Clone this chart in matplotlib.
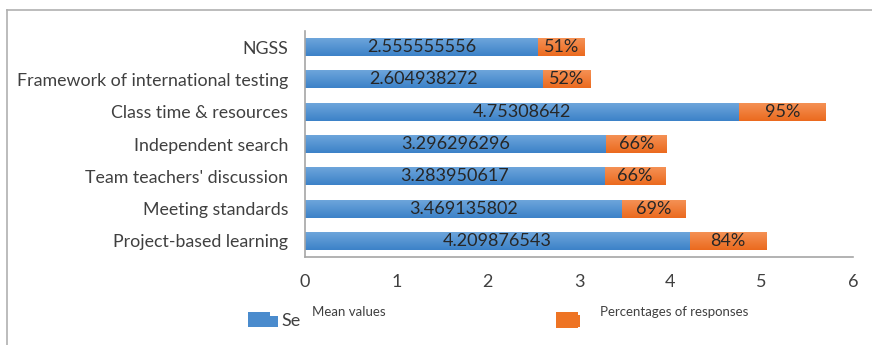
import numpy as np
import matplotlib
matplotlib.use("Agg")
import matplotlib.pyplot as plt
from matplotlib.colors import LinearSegmentedColormap
from matplotlib.patches import Rectangle
from matplotlib.lines import Line2D

categories = ["NGSS", "Framework of international testing", "Class time & resources",
              "Independent search", "Team teachers' discussion", "Meeting standards",
              "Project-based learning"]
mean_values = [2.555555556, 2.604938272, 4.75308642, 3.296296296, 3.283950617,
               3.469135802, 4.209876543]
pct_responses = [0.51, 0.52, 0.95, 0.66, 0.66, 0.69, 0.84]
x_ticks = [0, 1, 2, 3, 4, 5, 6]

plt.rcParams['font.family'] = ['Lato', 'DejaVu Sans']
txt = "#404040"

fig = plt.figure(figsize=(8.72, 3.45), dpi=100)
ax = fig.add_axes([305 / 872, 1 - 257 / 345, 548 / 872, 226 / 345])

n = len(categories)
ypos = np.arange(n)[::-1]
h = 0.56

blue_cmap = LinearSegmentedColormap.from_list("b", ["#3c82c8", "#70a7dc"])
orange_cmap = LinearSegmentedColormap.from_list("o", ["#eb6a1e", "#f59358"])
grad = np.linspace(0, 1, 64).reshape(-1, 1)

b1 = ax.barh(ypos, mean_values, height=h, color="none", linewidth=0)
b2 = ax.barh(ypos, pct_responses, left=mean_values, height=h, color="none", linewidth=0)

for bars, cmap in ((b1, blue_cmap), (b2, orange_cmap)):
    for r in bars:
        x0, y0 = r.get_x(), r.get_y()
        im = ax.imshow(grad, cmap=cmap, aspect="auto", origin="lower",
                       extent=(x0, x0 + r.get_width(), y0, y0 + r.get_height()),
                       interpolation="bilinear", zorder=2)
        im.set_clip_path(r)

for y, m, p in zip(ypos, mean_values, pct_responses):
    ax.text(m / 2, y, f"{m:.10g}", ha="center", va="center", fontsize=13,
            color="#262626", zorder=3)
    ax.text(m + p / 2, y, f"{p * 100:.0f}%", ha="center", va="center", fontsize=13,
            color="#262626", zorder=3)

ax.set_xlim(0, 6)
ax.set_ylim(-0.5, n - 0.5)
ax.set_xticks(x_ticks)
ax.set_xticklabels([str(t) for t in x_ticks], fontsize=13, color=txt)
ax.set_yticks(ypos)
ax.set_yticklabels(categories, fontsize=12.8, color=txt)
ax.tick_params(axis="both", length=0)
ax.tick_params(axis="x", pad=12)
ax.tick_params(axis="y", pad=12)
for s in ("top", "right"):
    ax.spines[s].set_visible(False)
for s in ("left", "bottom"):
    ax.spines[s].set_color("#a6a6a6")
    ax.spines[s].set_linewidth(1.2)

# outer chart frame
fig.add_artist(Line2D([7 / 872, 7 / 872], [0, 1 - 10 / 345], transform=fig.transFigure,
                      color="#b0b0b0", lw=1.2))
fig.add_artist(Line2D([7 / 872, 1], [1 - 10 / 345, 1 - 10 / 345], transform=fig.transFigure,
                      color="#b0b0b0", lw=1.2))

# legend
def patch(x, y, w, hgt, color):
    fig.add_artist(Rectangle((x / 872, 1 - (y + hgt) / 345), w / 872, hgt / 345,
                             transform=fig.transFigure, facecolor=color, edgecolor="none"))

patch(248, 312, 22, 15, "#4a8bcd")
patch(268, 316, 10, 11, "#4a8bcd")
fig.text(281 / 872, 1 - 321 / 345, "Se", fontsize=13, color=txt, va="center")
fig.text(312 / 872, 1 - 312 / 345, "Mean values", fontsize=9.5, color=txt, va="center")
patch(556, 312, 22, 16, "#ee7424")
patch(576, 315, 4, 12, "#ee7424")
fig.text(600 / 872, 1 - 312 / 345, "Percentages of responses", fontsize=9.5, color=txt,
         va="center")

fig.savefig("out.png", dpi=100)
